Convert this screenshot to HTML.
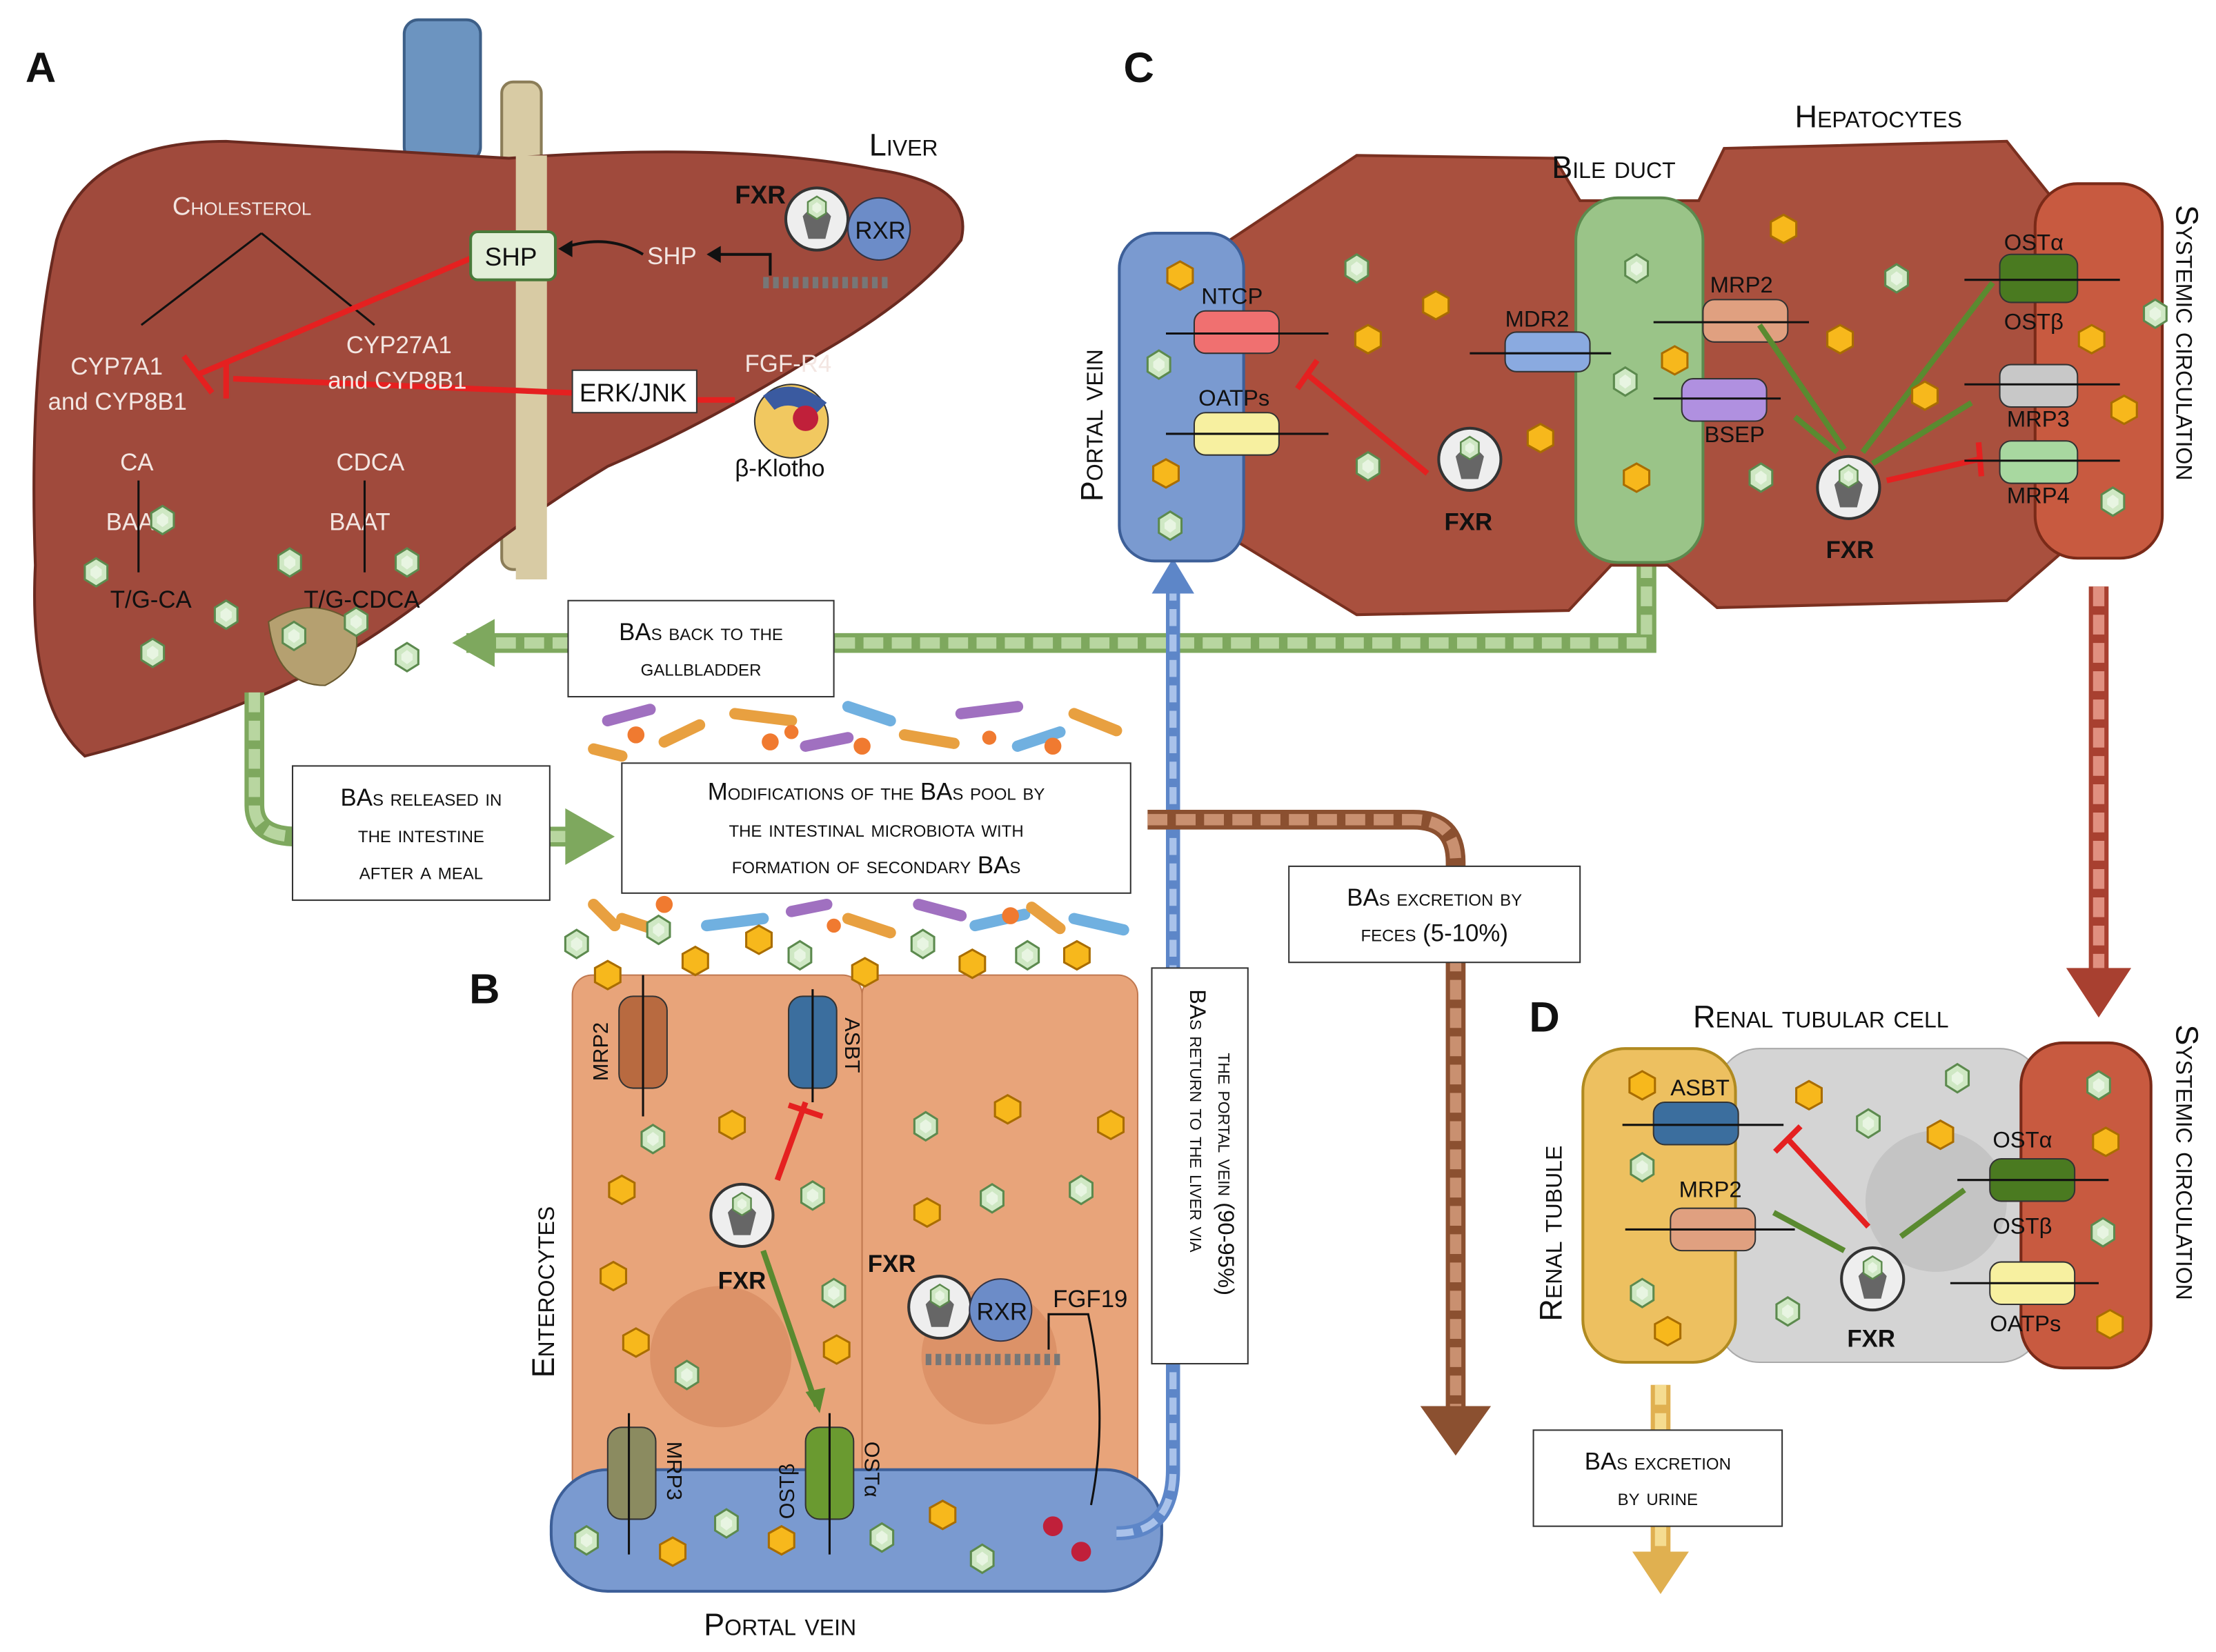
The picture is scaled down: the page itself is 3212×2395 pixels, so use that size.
<!DOCTYPE html>
<html><head><meta charset="utf-8"><style>
html,body{margin:0;padding:0;background:#fff}
svg{display:block}
text{font-family:"Liberation Sans",sans-serif;fill:#111}
.sc{font-variant:small-caps}
.w{fill:#f3e6e2}
</style></head><body>
<svg width="3212" height="2395" viewBox="0 0 1568 1169" preserveAspectRatio="none" xmlns="http://www.w3.org/2000/svg">
<defs>
<g id="hx"><polygon points="-8,-5 0,-10 8,-5 8,5 0,10 -8,5" fill="#cfe8c4" stroke="#5c8a4e" stroke-width="1.5"/><polygon points="-4,-2 0,-5 4,-2 4,2 0,5 -4,2" fill="#e8f5e2"/></g>
<g id="hy"><polygon points="-9,-5 0,-10 9,-5 9,5 0,10 -9,5" fill="#f7b81c" stroke="#a96d00" stroke-width="1.5"/></g>
<g id="fxr"><circle r="22" fill="#eee" stroke="#333" stroke-width="2"/><path d="M-10,-2 Q0,-14 10,-2 L6,14 L-6,14 Z" fill="#666"/><use href="#hx" y="-10" transform="scale(.8)"/></g>
</defs>
<rect width="1568" height="1169" fill="#fff"/>
<rect x="286" y="14" width="54" height="100" rx="10" fill="#6c94c0" stroke="#3d5f88" stroke-width="2"/>
<rect x="355" y="58" width="28" height="345" rx="8" fill="#d8cba4" stroke="#8b7d58" stroke-width="2"/>
<path d="M40,170 Q60,100 160,100 L360,112 Q520,100 620,120 Q690,130 680,170 Q650,210 580,250 Q500,300 430,330 Q380,360 330,400 Q260,460 190,490 Q120,520 60,535 Q20,500 25,400 Q20,260 40,170 Z" fill="#a04a3c" stroke="#6a2a20" stroke-width="2"/>
<path d="M190,440 Q220,420 250,440 Q260,470 230,485 Q195,485 190,440Z" fill="#b5a070" stroke="#6a5a30"/>
<rect x="365" y="110" width="22" height="300" fill="#d8cba4"/>
<path d="M185,165 L100,230 M185,165 L265,230" stroke="#111" stroke-width="1.5"/>
<path d="M335,182 L140,265 M130,252 L150,278" stroke="#e52020" stroke-width="4"/>
<path d="M165,268 L405,278 M160,255 L160,282" stroke="#e52020" stroke-width="4"/>
<path d="M493,283 L520,283" stroke="#e52020" stroke-width="4"/>
<path d="M455,180 Q430,165 400,175" fill="none" stroke="#111" stroke-width="2"/><polygon points="395,176 405,170 405,182" fill="#111"/>
<path d="M545,195 V180 H508" fill="none" stroke="#111" stroke-width="2"/><polygon points="500,180 510,174 510,186" fill="#111"/>
<text x="18" y="58" font-size="30" font-weight="bold">A</text>
<text x="615" y="110" font-size="22" class="sc">Liver</text>
<text x="122" y="152" font-size="18" class="sc w">Cholesterol</text>
<text x="50" y="265" font-size="17" class="w">CYP7A1</text><text x="34" y="290" font-size="17" class="w">and CYP8B1</text>
<text x="245" y="250" font-size="17" class="w">CYP27A1</text><text x="232" y="275" font-size="17" class="w">and CYP8B1</text>
<rect x="333" y="164" width="60" height="34" rx="5" fill="#e3efd8" stroke="#4a7a3a" stroke-width="2"/>
<text x="343" y="188" font-size="18">SHP</text>
<rect x="405" y="262" width="88" height="30" fill="#fff" stroke="#333"/>
<text x="410" y="284" font-size="18">ERK/JNK</text>
<text x="458" y="187" font-size="17" class="w">SHP</text>
<text x="520" y="144" font-size="18" font-weight="bold">FXR</text>
<g transform="translate(578,155)"><use href="#fxr"/></g>
<circle cx="622" cy="162" r="22" fill="#6c8cc8" stroke="#334"/><text x="605" y="169" font-size="17">RXR</text>
<path d="M540,200 L630,200" stroke="#777" stroke-width="8" stroke-dasharray="4 3"/>
<circle cx="560" cy="298" r="26" fill="#f1c860" stroke="#333"/><path d="M540,280 Q560,265 585,285 L575,295 Q560,282 548,290Z" fill="#3a5aa0"/><circle cx="570" cy="296" r="9" fill="#c0203a"/>
<text x="527" y="263" font-size="17" class="w">FGF-R4</text>
<text x="520" y="337" font-size="17">β-Klotho</text>
<text x="85" y="333" font-size="17" class="w">CA</text><text x="238" y="333" font-size="17" class="w">CDCA</text>
<text x="75" y="375" font-size="17" class="w">BAAT</text><text x="233" y="375" font-size="17" class="w">BAAT</text>
<path d="M98,340 V405 M258,340 V405" stroke="#111" stroke-width="1.5"/>
<text x="78" y="430" font-size="17">T/G-CA</text><text x="215" y="430" font-size="17">T/G-CDCA</text>
<use href="#hx" x="68" y="405"/><use href="#hx" x="115" y="368"/><use href="#hx" x="160" y="435"/><use href="#hx" x="205" y="398"/><use href="#hx" x="108" y="462"/><use href="#hx" x="208" y="450"/><use href="#hx" x="252" y="440"/><use href="#hx" x="288" y="398"/><use href="#hx" x="288" y="465"/>
<path d="M1165,395 V455 H330" fill="none" stroke="#7ea85e" stroke-width="14"/>
<path d="M1165,395 V455 H330" fill="none" stroke="#b8d6a0" stroke-width="8" stroke-dasharray="14 6"/>
<polygon points="320,455 350,438 350,472" fill="#7ea85e"/>
<rect x="402" y="425" width="188" height="68" fill="#fff" stroke="#333"/>
<text x="496" y="453" font-size="17" text-anchor="middle" class="sc">BAs back to the</text>
<text x="496" y="478" font-size="17" text-anchor="middle" class="sc">gallbladder</text>
<path d="M180,490 V570 Q180,592 210,592 H410" fill="none" stroke="#7ea85e" stroke-width="14"/>
<path d="M180,490 V570 Q180,592 210,592 H410" fill="none" stroke="#b8d6a0" stroke-width="8" stroke-dasharray="14 6"/>
<polygon points="435,592 400,572 400,612" fill="#7ea85e"/>
<rect x="207" y="542" width="182" height="95" fill="#fff" stroke="#333"/>
<text x="298" y="570" font-size="17" text-anchor="middle" class="sc">BAs released in</text>
<text x="298" y="596" font-size="17" text-anchor="middle" class="sc">the intestine</text>
<text x="298" y="622" font-size="17" text-anchor="middle" class="sc">after a meal</text>
<g stroke-width="8" stroke-linecap="round" fill="none">
<path d="M430,510 l30,-8" stroke="#a070c0"/><path d="M520,505 l40,5" stroke="#e8a040"/><path d="M600,500 l30,10" stroke="#70b0e0"/><path d="M680,505 l40,-5" stroke="#a070c0"/><path d="M760,505 l30,12" stroke="#e8a040"/>
<path d="M470,525 l25,-12" stroke="#e8a040"/><path d="M570,528 l30,-6" stroke="#a070c0"/><path d="M640,520 l35,6" stroke="#e8a040"/><path d="M720,528 l30,-10" stroke="#70b0e0"/><path d="M420,530 l20,5" stroke="#e8a040"/>
<path d="M440,650 l30,10" stroke="#e8a040"/><path d="M500,655 l40,-5" stroke="#70b0e0"/><path d="M600,650 l30,10" stroke="#e8a040"/><path d="M690,655 l35,-8" stroke="#70b0e0"/><path d="M760,650 l35,8" stroke="#70b0e0"/>
<path d="M420,640 l15,15" stroke="#e8a040"/><path d="M560,645 l25,-5" stroke="#a070c0"/><path d="M650,640 l30,8" stroke="#a070c0"/><path d="M730,642 l20,15" stroke="#e8a040"/>
</g>
<g fill="#f07a30"><circle cx="450" cy="520" r="6"/><circle cx="545" cy="525" r="6"/><circle cx="560" cy="518" r="5"/><circle cx="610" cy="528" r="6"/><circle cx="700" cy="522" r="5"/><circle cx="745" cy="528" r="6"/><circle cx="470" cy="640" r="6"/><circle cx="590" cy="655" r="5"/><circle cx="715" cy="648" r="6"/></g>
<rect x="440" y="540" width="360" height="92" fill="#fff" stroke="#333"/>
<text x="620" y="566" font-size="17" text-anchor="middle" class="sc">Modifications of the BAs pool by</text>
<text x="620" y="592" font-size="17" text-anchor="middle" class="sc">the intestinal microbiota with</text>
<text x="620" y="618" font-size="17" text-anchor="middle" class="sc">formation of secondary BAs</text>
<text x="332" y="710" font-size="30" font-weight="bold">B</text>
<rect x="405" y="690" width="205" height="370" rx="14" fill="#e8a47a" stroke="#c07850"/>
<rect x="610" y="690" width="195" height="370" rx="14" fill="#e8a47a" stroke="#c07850"/>
<circle cx="510" cy="960" r="50" fill="#dc9268"/><circle cx="700" cy="960" r="48" fill="#dc9268"/>
<rect x="390" y="1040" width="432" height="86" rx="40" fill="#7a9ad0" stroke="#3d5f98" stroke-width="2"/>
<text x="498" y="1157" font-size="22" class="sc">Portal vein</text>
<text transform="translate(392,975) rotate(-90)" font-size="22" class="sc">Enterocytes</text>
<rect x="438" y="705" width="34" height="65" rx="10" fill="#b86a40" stroke="#333"/>
<text transform="translate(430,765) rotate(-90)" font-size="15">MRP2</text>
<rect x="558" y="705" width="34" height="65" rx="10" fill="#3b6e9e" stroke="#333"/>
<text transform="translate(598,720) rotate(90)" font-size="15">ASBT</text>
<rect x="430" y="1010" width="34" height="65" rx="10" fill="#8b8b60" stroke="#333"/>
<text transform="translate(472,1020) rotate(90)" font-size="15">MRP3</text>
<rect x="570" y="1010" width="34" height="65" rx="10" fill="#6a9a30" stroke="#333"/>
<text transform="translate(562,1075) rotate(-90)" font-size="15">OSTβ</text><text transform="translate(612,1020) rotate(90)" font-size="15">OSTα</text>
<path d="M455,690 V790 M445,1000 V1100 M575,700 V780 M587,1000 V1100" stroke="#111" stroke-width="1.5"/>
<g transform="translate(525,860)"><use href="#fxr"/></g><text x="508" y="912" font-size="17" font-weight="bold">FXR</text>
<path d="M550,835 L570,780 M558,782 L582,790" stroke="#e52020" stroke-width="4"/>
<path d="M540,885 L578,995" stroke="#5a8a30" stroke-width="4"/><polygon points="580,1000 570,985 584,982" fill="#5a8a30"/>
<text x="614" y="900" font-size="17" font-weight="bold">FXR</text>
<g transform="translate(665,925)"><use href="#fxr"/></g>
<circle cx="708" cy="927" r="22" fill="#6c8cc8" stroke="#334"/><text x="691" y="934" font-size="17">RXR</text>
<path d="M655,962 L750,962" stroke="#777" stroke-width="8" stroke-dasharray="4 3"/>
<text x="745" y="925" font-size="17">FGF19</text>
<path d="M742,955 V930 H770 Q785,1000 772,1065" fill="none" stroke="#111" stroke-width="1.5"/>
<circle cx="745" cy="1080" r="7" fill="#c0203a"/><circle cx="765" cy="1098" r="7" fill="#c0203a"/>
<use href="#hx" x="408" y="668"/><use href="#hx" x="466" y="658"/><use href="#hx" x="566" y="676"/><use href="#hx" x="653" y="668"/><use href="#hx" x="727" y="676"/>
<use href="#hy" x="430" y="690"/><use href="#hy" x="492" y="680"/><use href="#hy" x="537" y="665"/><use href="#hy" x="612" y="688"/><use href="#hy" x="688" y="682"/><use href="#hy" x="762" y="676"/>
<use href="#hx" x="462" y="806"/><use href="#hy" x="518" y="796"/><use href="#hy" x="440" y="842"/><use href="#hx" x="575" y="846"/><use href="#hy" x="434" y="903"/><use href="#hx" x="590" y="915"/><use href="#hy" x="450" y="950"/><use href="#hy" x="592" y="955"/><use href="#hx" x="486" y="973"/>
<use href="#hx" x="655" y="797"/><use href="#hy" x="713" y="785"/><use href="#hy" x="786" y="796"/><use href="#hx" x="702" y="848"/><use href="#hy" x="656" y="858"/><use href="#hx" x="765" y="842"/>
<use href="#hx" x="415" y="1090"/><use href="#hy" x="476" y="1098"/><use href="#hx" x="514" y="1078"/><use href="#hy" x="553" y="1090"/><use href="#hx" x="624" y="1088"/><use href="#hy" x="667" y="1072"/><use href="#hx" x="695" y="1103"/>
<path d="M790,1085 Q830,1085 830,1040 V420" fill="none" stroke="#5d86c8" stroke-width="10"/>
<path d="M790,1085 Q830,1085 830,1040 V420" fill="none" stroke="#a9c2ea" stroke-width="5" stroke-dasharray="12 6"/>
<polygon points="830,395 815,420 845,420" fill="#5d86c8"/>
<rect x="815" y="685" width="68" height="280" fill="#fff" stroke="#333"/>
<text transform="translate(842,700) rotate(90)" font-size="16" class="sc">BAs return to the liver via</text>
<text transform="translate(862,745) rotate(90)" font-size="16" class="sc">the portal vein (90-95%)</text>
<path d="M812,580 H1000 Q1030,580 1030,610 V1000" fill="none" stroke="#8b5030" stroke-width="14"/>
<path d="M812,580 H1000 Q1030,580 1030,610 V1000" fill="none" stroke="#c99070" stroke-width="8" stroke-dasharray="14 6"/>
<polygon points="1030,1030 1005,995 1055,995" fill="#8b5030"/>
<rect x="912" y="613" width="206" height="68" fill="#fff" stroke="#333"/>
<text x="1015" y="641" font-size="17" text-anchor="middle" class="sc">BAs excretion by</text>
<text x="1015" y="666" font-size="17" text-anchor="middle" class="sc">feces (5-10%)</text>
<!-- panel C -->
<text x="795" y="58" font-size="30" font-weight="bold">C</text>
<path d="M870,170 L960,110 L1100,112 L1118,142 L1202,142 L1220,105 L1420,100 L1460,150 L1460,390 L1420,425 L1215,430 L1180,400 L1140,400 L1110,432 L960,435 L870,380 Z" fill="#a9503e" stroke="#7a3020" stroke-width="2"/>
<text x="1270" y="90" font-size="22" class="sc">Hepatocytes</text>
<text x="1098" y="126" font-size="22" class="sc">Bile duct</text>
<rect x="1440" y="130" width="90" height="265" rx="30" fill="#c85a40" stroke="#7a2a18" stroke-width="2"/>
<rect x="1115" y="140" width="90" height="258" rx="30" fill="#9ac488" stroke="#5c8a4e" stroke-width="2"/>
<rect x="792" y="165" width="88" height="232" rx="25" fill="#7a9ad0" stroke="#3d5f98" stroke-width="2"/>
<text transform="translate(780,355) rotate(-90)" font-size="22" class="sc">Portal vein</text>
<text transform="translate(1540,145) rotate(90)" font-size="22" class="sc">Systemic circulation</text>
<rect x="845" y="220" width="60" height="30" rx="8" fill="#f07070" stroke="#333"/><text x="850" y="215" font-size="16">NTCP</text>
<rect x="845" y="292" width="60" height="30" rx="8" fill="#f7f0a0" stroke="#333"/><text x="848" y="287" font-size="16">OATPs</text>
<path d="M825,236 H940 M825,307 H940" stroke="#111" stroke-width="1.5"/>
<path d="M1010,335 L925,265 M918,275 L932,255" stroke="#e52020" stroke-width="4"/>
<g transform="translate(1040,325)"><use href="#fxr"/></g><text x="1022" y="375" font-size="17" font-weight="bold">FXR</text>
<rect x="1065" y="235" width="60" height="28" rx="8" fill="#8aaae0" stroke="#333"/><text x="1065" y="231" font-size="16">MDR2</text>
<rect x="1205" y="212" width="60" height="30" rx="8" fill="#e0a080" stroke="#333"/><text x="1210" y="207" font-size="16">MRP2</text>
<rect x="1190" y="268" width="60" height="30" rx="8" fill="#b090e0" stroke="#333"/><text x="1206" y="313" font-size="16">BSEP</text>
<path d="M1040,250 H1140 M1280,228 H1170 M1260,282 H1170" stroke="#111" stroke-width="1.5"/>
<g transform="translate(1308,345)"><use href="#fxr"/></g><text x="1292" y="395" font-size="17" font-weight="bold">FXR</text>
<path d="M1300,320 L1270,295 M1305,318 L1245,230 M1318,320 L1410,200 M1325,328 L1395,285" stroke="#5a8a30" stroke-width="4"/>
<path d="M1335,340 L1400,325 M1400,313 L1402,337" stroke="#e52020" stroke-width="4"/>
<rect x="1415" y="180" width="55" height="34" rx="8" fill="#4a7a20" stroke="#333"/><text x="1418" y="177" font-size="16">OSTα</text><text x="1418" y="233" font-size="16">OSTβ</text>
<rect x="1415" y="258" width="55" height="30" rx="8" fill="#c8c8c8" stroke="#333"/><text x="1420" y="302" font-size="16">MRP3</text>
<rect x="1415" y="312" width="55" height="30" rx="8" fill="#a8d8a0" stroke="#333"/><text x="1420" y="356" font-size="16">MRP4</text>
<path d="M1390,198 H1500 M1390,272 H1500 M1390,326 H1500" stroke="#111" stroke-width="1.5"/>
<use href="#hy" x="835" y="195"/><use href="#hx" x="820" y="258"/><use href="#hy" x="825" y="335"/><use href="#hx" x="828" y="372"/>
<use href="#hx" x="960" y="190"/><use href="#hy" x="1016" y="216"/><use href="#hy" x="968" y="240"/><use href="#hx" x="968" y="330"/><use href="#hy" x="1090" y="310"/><use href="#hx" x="1158" y="190"/><use href="#hx" x="1150" y="270"/><use href="#hy" x="1185" y="255"/><use href="#hy" x="1158" y="338"/>
<use href="#hy" x="1262" y="162"/><use href="#hy" x="1302" y="240"/><use href="#hx" x="1246" y="338"/><use href="#hx" x="1342" y="197"/><use href="#hy" x="1362" y="280"/><use href="#hy" x="1480" y="240"/><use href="#hx" x="1525" y="222"/><use href="#hy" x="1503" y="290"/><use href="#hx" x="1495" y="355"/>
<path d="M1485,415 V690" stroke="#a84030" stroke-width="14"/>
<path d="M1485,415 V690" stroke="#e09080" stroke-width="8" stroke-dasharray="14 6"/>
<polygon points="1485,720 1462,685 1508,685" fill="#a84030"/>
<!-- panel D -->
<text x="1082" y="730" font-size="30" font-weight="bold">D</text>
<text x="1198" y="727" font-size="22" class="sc">Renal tubular cell</text>
<rect x="1215" y="742" width="230" height="222" rx="30" fill="#d4d4d4" stroke="#aaa"/>
<circle cx="1370" cy="850" r="50" fill="#c4c4c4"/>
<rect x="1120" y="742" width="108" height="222" rx="30" fill="#edc060" stroke="#b08a20" stroke-width="2"/>
<rect x="1430" y="738" width="92" height="230" rx="30" fill="#c85a40" stroke="#7a2a18" stroke-width="2"/>
<text transform="translate(1105,935) rotate(-90)" font-size="22" class="sc">Renal tubule</text>
<text transform="translate(1540,725) rotate(90)" font-size="22" class="sc">Systemic circulation</text>
<rect x="1170" y="780" width="60" height="30" rx="8" fill="#3b6e9e" stroke="#333"/><text x="1182" y="775" font-size="16">ASBT</text>
<rect x="1182" y="855" width="60" height="30" rx="8" fill="#e0a080" stroke="#333"/><text x="1188" y="847" font-size="16">MRP2</text>
<rect x="1408" y="820" width="60" height="30" rx="8" fill="#4a7a20" stroke="#333"/><text x="1410" y="812" font-size="16">OSTα</text><text x="1410" y="873" font-size="16">OSTβ</text>
<rect x="1408" y="893" width="60" height="30" rx="8" fill="#f7f0a0" stroke="#333"/><text x="1408" y="942" font-size="16">OATPs</text>
<path d="M1148,796 H1262 M1270,870 H1150 M1385,835 H1492 M1485,908 H1380" stroke="#111" stroke-width="1.5"/>
<g transform="translate(1325,905)"><use href="#fxr"/></g><text x="1307" y="953" font-size="17" font-weight="bold">FXR</text>
<path d="M1322,868 L1265,806 M1256,815 L1274,797" stroke="#e52020" stroke-width="4"/>
<path d="M1305,885 L1255,858 M1345,875 L1390,842" stroke="#5a8a30" stroke-width="4"/>
<use href="#hy" x="1162" y="768"/><use href="#hx" x="1162" y="826"/><use href="#hx" x="1162" y="915"/><use href="#hy" x="1180" y="942"/>
<use href="#hy" x="1280" y="775"/><use href="#hx" x="1322" y="795"/><use href="#hy" x="1373" y="803"/><use href="#hx" x="1385" y="763"/><use href="#hx" x="1265" y="928"/>
<use href="#hx" x="1485" y="768"/><use href="#hy" x="1490" y="808"/><use href="#hx" x="1488" y="872"/><use href="#hy" x="1493" y="937"/>
<path d="M1175,980 V1100" stroke="#e0b050" stroke-width="14"/>
<path d="M1175,980 V1100" stroke="#f5dc90" stroke-width="8" stroke-dasharray="14 6"/>
<polygon points="1175,1128 1155,1098 1195,1098" fill="#e0b050"/>
<rect x="1085" y="1012" width="176" height="68" fill="#fff" stroke="#333"/>
<text x="1173" y="1040" font-size="17" text-anchor="middle" class="sc">BAs excretion</text>
<text x="1173" y="1065" font-size="17" text-anchor="middle" class="sc">by urine</text>
</svg>
</body></html>
